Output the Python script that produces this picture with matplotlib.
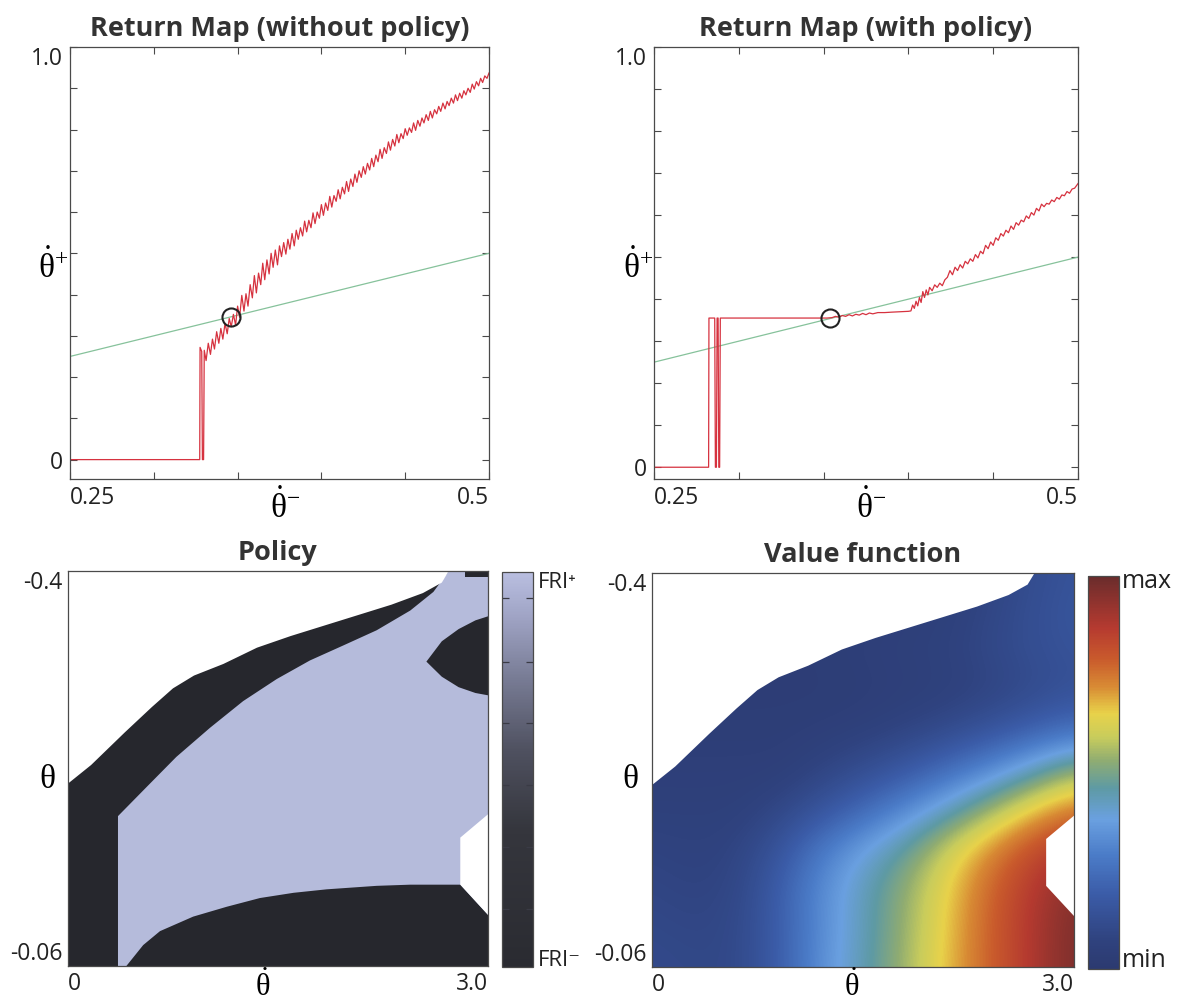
import numpy as np
import matplotlib
matplotlib.use("Agg")
import matplotlib.pyplot as plt
from matplotlib.colors import LinearSegmentedColormap, Normalize
from matplotlib.cm import ScalarMappable
from matplotlib.patches import Polygon

plt.rcParams["font.family"] = ["Open Sans", "DejaVu Sans"]
plt.rcParams["mathtext.fontset"] = "custom"
plt.rcParams["mathtext.rm"] = "Liberation Serif"
plt.rcParams["mathtext.it"] = "Liberation Serif"
plt.rcParams["mathtext.bf"] = "Liberation Serif:bold"

# ---- return map without policy (theta_dot^- -> theta_dot^+) ----
free_x = [0.25, 0.3274, 0.3276, 0.3286, 0.3290, 0.3297, 0.3301,
          0.3312, 0.3325, 0.3338, 0.3350, 0.3362, 0.3375, 0.3388, 0.3400, 0.3412, 0.3425,
          0.3438, 0.3450, 0.3462, 0.3475, 0.3488, 0.3500, 0.3512, 0.3525, 0.3538, 0.3550,
          0.3562, 0.3575, 0.3588, 0.3600, 0.3612, 0.3625, 0.3638, 0.3650, 0.3662, 0.3675,
          0.3688, 0.3700, 0.3712, 0.3725, 0.3738, 0.3750, 0.3762, 0.3775, 0.3788, 0.3800,
          0.3812, 0.3825, 0.3838, 0.3850, 0.3862, 0.3875, 0.3888, 0.3900, 0.3912, 0.3925,
          0.3938, 0.3950, 0.3962, 0.3975, 0.3988, 0.4000, 0.4012, 0.4025, 0.4038, 0.4050,
          0.4062, 0.4075, 0.4088, 0.4100, 0.4112, 0.4125, 0.4138, 0.4150, 0.4162, 0.4175,
          0.4188, 0.4200, 0.4212, 0.4225, 0.4238, 0.4250, 0.4262, 0.4275, 0.4288, 0.4300,
          0.4312, 0.4325, 0.4338, 0.4350, 0.4362, 0.4375, 0.4388, 0.4400, 0.4412, 0.4425,
          0.4438, 0.4450, 0.4462, 0.4475, 0.4488, 0.4500, 0.4512, 0.4525, 0.4538, 0.4550,
          0.4562, 0.4575, 0.4588, 0.4600, 0.4612, 0.4625, 0.4638, 0.4650, 0.4662, 0.4675,
          0.4688, 0.4700, 0.4712, 0.4725, 0.4738, 0.4750, 0.4762, 0.4775, 0.4788, 0.4800,
          0.4812, 0.4825, 0.4838, 0.4850, 0.4862, 0.4875, 0.4888, 0.4900, 0.4912, 0.4925,
          0.4938, 0.4950, 0.4962, 0.4975, 0.4988, 0.5000]
free_y = [0.0, 0.0, 0.272, 0.262, 0.0, 0.0, 0.265,
          0.240, 0.282, 0.255, 0.292, 0.268, 0.310, 0.282, 0.318, 0.292, 0.330,
          0.305, 0.342, 0.322, 0.352, 0.326, 0.372, 0.345, 0.398, 0.360, 0.402,
          0.372, 0.424, 0.392, 0.446, 0.404, 0.452, 0.424, 0.476, 0.436, 0.484,
          0.450, 0.500, 0.466, 0.508, 0.472, 0.518, 0.492, 0.526, 0.498, 0.534,
          0.510, 0.548, 0.518, 0.556, 0.534, 0.562, 0.542, 0.578, 0.552, 0.580,
          0.562, 0.598, 0.572, 0.600, 0.585, 0.618, 0.592, 0.622, 0.604, 0.638,
          0.612, 0.640, 0.626, 0.654, 0.632, 0.660, 0.644, 0.674, 0.650, 0.680,
          0.662, 0.692, 0.672, 0.700, 0.684, 0.710, 0.692, 0.718, 0.702, 0.730,
          0.710, 0.738, 0.722, 0.752, 0.730, 0.756, 0.742, 0.770, 0.750, 0.776,
          0.760, 0.788, 0.768, 0.790, 0.778, 0.802, 0.786, 0.804, 0.793, 0.816,
          0.798, 0.822, 0.808, 0.828, 0.816, 0.836, 0.822, 0.844, 0.828, 0.848,
          0.838, 0.856, 0.844, 0.864, 0.850, 0.868, 0.858, 0.876, 0.864, 0.884,
          0.870, 0.888, 0.876, 0.894, 0.884, 0.900, 0.890, 0.910, 0.898, 0.916,
          0.906, 0.924, 0.914, 0.930, 0.924, 0.937]
free_fixed = 0.346

# ---- return map with policy ----
pol_x = [0.25, 0.2822, 0.2824, 0.2858, 0.2862, 0.2868, 0.2872, 0.2878, 0.2882, 0.2887, 0.2891,
         0.3520, 0.3550, 0.3570, 0.3590, 0.3610, 0.3630, 0.3650, 0.3670, 0.3690, 0.3710,
         0.3730, 0.3750, 0.3770, 0.3790, 0.3820, 0.3860, 0.3900, 0.3950, 0.4000, 0.4015,
         0.4025, 0.4035, 0.4045, 0.4055, 0.4065, 0.4075, 0.4085, 0.4095, 0.4105, 0.4115,
         0.4125, 0.4140, 0.4155, 0.4170, 0.4185, 0.4200, 0.4215, 0.4230, 0.4245, 0.4260,
         0.4275, 0.4290, 0.4305, 0.4320, 0.4335, 0.4350, 0.4365, 0.4380, 0.4395, 0.4410,
         0.4425, 0.4440, 0.4455, 0.4470, 0.4485, 0.4500, 0.4515, 0.4530, 0.4545, 0.4560,
         0.4575, 0.4590, 0.4605, 0.4620, 0.4635, 0.4650, 0.4665, 0.4680, 0.4695, 0.4710,
         0.4725, 0.4740, 0.4755, 0.4770, 0.4785, 0.4800, 0.4815, 0.4830, 0.4845, 0.4860,
         0.4875, 0.4890, 0.4905, 0.4920, 0.4935, 0.4950, 0.4965, 0.4980, 0.5000]
pol_y = [0.0, 0.0, 0.355, 0.355, 0.0, 0.0, 0.355, 0.355, 0.0, 0.0, 0.355,
         0.355, 0.356, 0.359, 0.357, 0.361, 0.359, 0.363, 0.360, 0.364, 0.362,
         0.366, 0.363, 0.367, 0.365, 0.368, 0.368, 0.369, 0.370, 0.371, 0.372,
         0.386, 0.378, 0.395, 0.384, 0.404, 0.392, 0.418, 0.404, 0.422, 0.410,
         0.428, 0.420, 0.434, 0.428, 0.438, 0.432, 0.446, 0.452, 0.468, 0.458,
         0.476, 0.468, 0.482, 0.474, 0.490, 0.484, 0.496, 0.490, 0.506, 0.498,
         0.514, 0.508, 0.528, 0.520, 0.536, 0.528, 0.546, 0.540, 0.556, 0.550,
         0.564, 0.558, 0.574, 0.566, 0.582, 0.576, 0.588, 0.584, 0.598, 0.592,
         0.606, 0.600, 0.616, 0.610, 0.626, 0.620, 0.628, 0.626, 0.636, 0.632,
         0.642, 0.638, 0.648, 0.646, 0.656, 0.652, 0.662, 0.664, 0.675]
pol_fixed = 0.354

rm_xticks = [0.25, 0.30, 0.35, 0.40, 0.45, 0.50]
rm_yticks = [0.0, 0.1, 0.2, 0.3, 0.4, 0.5, 0.6, 0.7, 0.8, 0.9, 1.0]

# ---- state-space regions (theta_dot, theta), shared by both lower panels ----
dom_x = [0.0, 0.165, 0.405, 0.60, 0.75, 0.90, 1.11, 1.35, 1.59, 1.83, 2.07, 2.31, 2.535, 2.67, 2.72]
dom_y = [-0.217, -0.233, -0.261, -0.283, -0.299, -0.310, -0.320, -0.334, -0.344, -0.353,
         -0.362, -0.371, -0.381, -0.390, -0.400]
notch_x = [3.0, 2.802, 2.802, 3.0]
notch_y = [-0.1906, -0.1705, -0.130, -0.104]

# policy: FRI- regions
band_x = [0.357, 0.561, 0.774, 1.014, 1.251, 1.491, 1.728, 1.968, 2.205, 2.445, 2.61, 2.72]
band_y = [-0.189, -0.214, -0.240, -0.265, -0.288, -0.307, -0.323, -0.336, -0.349, -0.366,
          -0.382, -0.400]
low_x = [0.417, 0.537, 0.657, 0.894, 1.134, 1.371, 1.611, 1.848, 2.205, 2.445, 2.802, 3.0]
low_y = [-0.060, -0.078, -0.090, -0.1025, -0.111, -0.1185, -0.123, -0.126, -0.129, -0.130,
         -0.130, -0.104]
blob_x = [2.560, 2.670, 2.790, 2.910, 3.0, 3.0, 2.910, 2.790, 2.670]
blob_y = [-0.322, -0.3395, -0.3500, -0.3575, -0.3610, -0.2930, -0.2950, -0.3000, -0.3090]
corner_x = [2.838, 3.0, 3.0, 2.838]
corner_y = [-0.400, -0.400, -0.395, -0.395]

# value function, read on an 11 x 11 grid (rows: theta -0.4 .. -0.06, cols: theta_dot 0 .. 3)
value_grid = [
    [.03, .03, .03, .03, .03, .04, .05, .06, .08, .12, .15],
    [.03, .03, .03, .03, .03, .04, .05, .06, .09, .13, .16],
    [.03, .03, .03, .03, .04, .05, .06, .07, .10, .13, .15],
    [.03, .03, .03, .03, .03, .04, .05, .06, .08, .11, .14],
    [.04, .04, .04, .04, .05, .06, .08, .11, .15, .20, .25],
    [.05, .05, .05, .05, .08, .12, .17, .24, .32, .42, .53],
    [.06, .06, .06, .09, .15, .23, .32, .42, .54, .66, .75],
    [.08, .07, .08, .15, .28, .38, .47, .60, .72, .82, .88],
    [.09, .08, .09, .19, .33, .43, .53, .65, .77, .87, .95],
    [.10, .09, .10, .19, .33, .43, .54, .66, .78, .88, .97],
    [.11, .10, .10, .19, .34, .44, .55, .67, .78, .88, .97],
]

value_colors = [(0.0, "#2c3a70"), (0.07, "#2f427e"), (0.19, "#3b5ca8"), (0.29, "#4b7cc8"),
                (0.38, "#6aa0e0"), (0.46, "#5e9aa4"), (0.53, "#8fac72"), (0.59, "#c8cc5c"),
                (0.65, "#e8d24a"), (0.72, "#d88a34"), (0.79, "#c95a2c"), (0.87, "#b53a30"),
                (1.0, "#6a2c2c")]
policy_colors = [(0.0, "#2a2b31"), (0.35, "#35363d"), (0.55, "#4f5160"), (0.75, "#7c809a"),
                 (0.9, "#a2a7c8"), (1.0, "#b9bee0")]
policy_cb_ticks = [0.147, 0.304, 0.461, 0.618, 0.772, 0.934]

FRI_PLUS = "#b5bbdb"
FRI_MINUS = "#26272d"
RED = "#d6323f"
GREEN = "#86c29b"
FRAME = "#4a4a4a"

W, H = 1177, 1005
fig = plt.figure(figsize=(W / 100, H / 100), dpi=100)


def px_axes(x0, y0, x1, y1):
    return fig.add_axes([x0 / W, 1 - y1 / H, (x1 - x0) / W, (y1 - y0) / H])


def px_text(x, y, s, **kw):
    fig.text(x / W, 1 - y / H, s, **kw)


def return_map(ax, x, y, fixed, ybottom, title):
    ax.plot([0.25, 0.5], [0.25, 0.5], color=GREEN, lw=0.9)
    ax.plot(x, y, color=RED, lw=0.9)
    ax.plot([fixed], [fixed], "o", mfc="none", mec="#222222", ms=13, mew=1.5)
    ax.set_xlim(0.25, 0.5)
    ax.set_ylim(ybottom, 1.0)
    ax.set_xticks(rm_xticks)
    ax.set_xticklabels(["0.25", "", "", "", "", "0.5"])
    ax.set_yticks(rm_yticks)
    ax.set_yticklabels(["0", "", "", "", "", "", "", "", "", "", "1.0"])
    xl = ax.get_xticklabels()
    xl[0].set_ha("left")
    xl[-1].set_ha("right")
    ax.get_yticklabels()[-1].set_va("top")
    ax.tick_params(direction="in", top=True, right=True, length=5, width=0.8,
                   color=FRAME, labelsize=16.5, labelcolor="#222222", pad=5)
    for s in ax.spines.values():
        s.set_color(FRAME)
        s.set_linewidth(0.9)
    ax.set_title(title, fontsize=19.5, fontweight="bold", color="#333333", pad=8)


def state_axes(ax, title):
    ax.set_xlim(0, 3.0)
    ax.set_ylim(-0.06, -0.4)
    ax.set_xticks([0, 3.0])
    ax.set_xticklabels(["0", "3.0"])
    ax.set_yticks([-0.4, -0.06])
    ax.set_yticklabels(["-0.4", "-0.06"])
    xl = ax.get_xticklabels()
    xl[0].set_ha("left")
    xl[-1].set_ha("right")
    yl = ax.get_yticklabels()
    yl[0].set_va("top")
    yl[1].set_va("bottom")
    ax.tick_params(length=0, labelsize=16.5, labelcolor="#222222", pad=4)
    for s in ax.spines.values():
        s.set_color(FRAME)
        s.set_linewidth(0.9)
    ax.set_title(title, fontsize=19.5, fontweight="bold", color="#333333", pad=8)
    ax.add_patch(Polygon(list(zip(dom_x, dom_y)) + [(0.0, -0.4)], closed=True,
                         fc="white", ec="none", zorder=2))
    ax.add_patch(Polygon(list(zip(notch_x, notch_y)), closed=True,
                         fc="white", ec="none", zorder=2))


# ---- top row ----
ax1 = px_axes(70, 47, 489, 479)
return_map(ax1, free_x, free_y, free_fixed, -0.047, "Return Map (without policy)")
ax2 = px_axes(654, 47, 1078, 479)
return_map(ax2, pol_x, pol_y, pol_fixed, -0.028, "Return Map (with policy)")

for xc in (53, 638):
    px_text(xc, 268, r"$\dot{\theta}^{+}$", fontsize=24, ha="center", va="center")
px_text(285, 508, r"$\dot{\theta}^{-}$", fontsize=24, ha="center", va="center")
px_text(871, 508, r"$\dot{\theta}^{-}$", fontsize=24, ha="center", va="center")

# ---- policy ----
ax3 = px_axes(68, 571, 488, 966)
ax3.set_facecolor(FRI_PLUS)
ax3.add_patch(Polygon([(0.0, -0.06), (0.357, -0.06)] + list(zip(band_x, band_y)) + [(0.0, -0.4)],
                      closed=True, fc=FRI_MINUS, ec="none", zorder=1))
ax3.add_patch(Polygon(list(zip(low_x, low_y)) + [(3.0, -0.06)], closed=True,
                      fc=FRI_MINUS, ec="none", zorder=1))
ax3.add_patch(Polygon(list(zip(blob_x, blob_y)), closed=True, fc=FRI_MINUS, ec="none", zorder=1))
ax3.add_patch(Polygon(list(zip(corner_x, corner_y)), closed=True, fc=FRI_MINUS, ec="none", zorder=1))
state_axes(ax3, "Policy")

cax3 = px_axes(502, 572, 533, 967)
pcmap = LinearSegmentedColormap.from_list("policy", policy_colors)
cb3 = fig.colorbar(ScalarMappable(norm=Normalize(0, 1), cmap=pcmap), cax=cax3)
cb3.set_ticks(policy_cb_ticks)
cb3.ax.tick_params(direction="in", left=True, right=True, labelright=False,
                   length=5, width=0.9, color="#3a3b45")
cb3.outline.set_edgecolor(FRAME)
cb3.outline.set_linewidth(0.9)
px_text(538, 582, "FRI⁺", fontsize=16, ha="left", va="center", color="#222222")
px_text(538, 960, "FRI⁻", fontsize=16, ha="left", va="center", color="#222222")

# ---- value function ----
ax4 = px_axes(652, 573, 1074, 967)
vcmap = LinearSegmentedColormap.from_list("value", value_colors)
im = ax4.imshow(np.array(value_grid), cmap=vcmap, vmin=0, vmax=1, origin="upper",
                extent=(-0.15, 3.15, -0.043, -0.417), aspect="auto",
                interpolation="bicubic", interpolation_stage="data")
state_axes(ax4, "Value function")

cax4 = px_axes(1088, 576, 1119, 969)
cb4 = fig.colorbar(im, cax=cax4)
cb4.set_ticks([])
cb4.outline.set_edgecolor(FRAME)
cb4.outline.set_linewidth(0.9)
px_text(1122, 582, "max", fontsize=18, ha="left", va="center", color="#222222")
px_text(1122, 960, "min", fontsize=18, ha="left", va="center", color="#222222")

for xc in (47, 630):
    px_text(xc, 779, r"$\theta$", fontsize=24, ha="center", va="center")
px_text(263, 1003, r"$\dot{\theta}$", fontsize=22, ha="center", va="bottom")
px_text(852, 1003, r"$\dot{\theta}$", fontsize=22, ha="center", va="bottom")

fig.savefig("out.png", dpi=100, facecolor="white")
